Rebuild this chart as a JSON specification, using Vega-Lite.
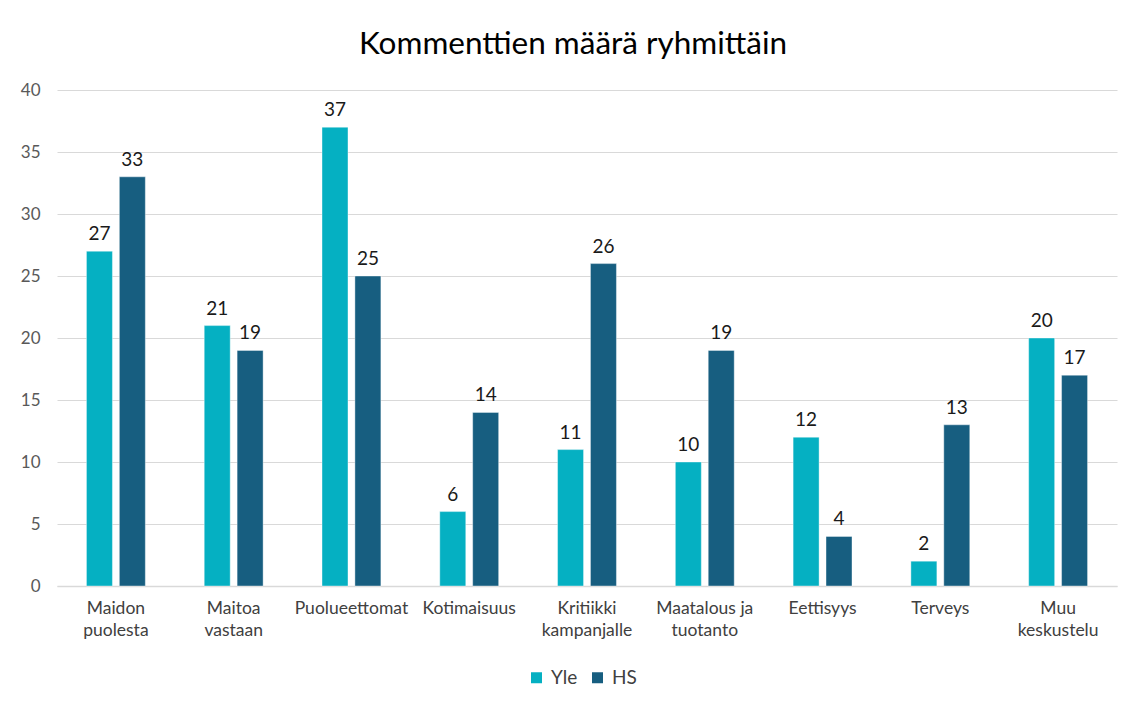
{
  "$schema": "https://vega.github.io/schema/vega-lite/v6.json",
  "autosize": {"type": "none"},
  "padding": {"left": 57, "top": 90, "right": 15, "bottom": 118},
  "width": 1060,
  "height": 496,
  "background": "white",
  "title": {
    "text": "Kommenttien määrä ryhmittäin",
    "font": "Lato",
    "fontSize": 31.5,
    "fontWeight": "normal",
    "color": "#000000",
    "anchor": "middle",
    "offset": 21,
    "dx": -14
  },
  "data": {
    "values": [
      {"ryhma": "Maidon puolesta", "lahde": "Yle", "maara": 27},
      {"ryhma": "Maidon puolesta", "lahde": "HS", "maara": 33},
      {"ryhma": "Maitoa vastaan", "lahde": "Yle", "maara": 21},
      {"ryhma": "Maitoa vastaan", "lahde": "HS", "maara": 19},
      {"ryhma": "Puolueettomat", "lahde": "Yle", "maara": 37},
      {"ryhma": "Puolueettomat", "lahde": "HS", "maara": 25},
      {"ryhma": "Kotimaisuus", "lahde": "Yle", "maara": 6},
      {"ryhma": "Kotimaisuus", "lahde": "HS", "maara": 14},
      {"ryhma": "Kritiikki kampanjalle", "lahde": "Yle", "maara": 11},
      {"ryhma": "Kritiikki kampanjalle", "lahde": "HS", "maara": 26},
      {"ryhma": "Maatalous ja tuotanto", "lahde": "Yle", "maara": 10},
      {"ryhma": "Maatalous ja tuotanto", "lahde": "HS", "maara": 19},
      {"ryhma": "Eettisyys", "lahde": "Yle", "maara": 12},
      {"ryhma": "Eettisyys", "lahde": "HS", "maara": 4},
      {"ryhma": "Terveys", "lahde": "Yle", "maara": 2},
      {"ryhma": "Terveys", "lahde": "HS", "maara": 13},
      {"ryhma": "Muu keskustelu", "lahde": "Yle", "maara": 20},
      {"ryhma": "Muu keskustelu", "lahde": "HS", "maara": 17}
    ]
  },
  "encoding": {
    "x": {
      "field": "ryhma",
      "type": "nominal",
      "sort": null,
      "title": null,
      "scale": {"paddingInner": 0.5, "paddingOuter": 0.25},
      "axis": {
        "labelAngle": 0,
        "labelFont": "Lato",
        "labelFontSize": 17.5,
        "labelColor": "#404040",
        "labelPadding": 13,
        "labelLineHeight": 22,
        "labelExpr": "datum.value == 'Maatalous ja tuotanto' ? ['Maatalous ja', 'tuotanto'] : split(datum.value, ' ')",
        "ticks": false,
        "domainColor": "#D9D9D9",
        "domainWidth": 1.5,
        "grid": false
      }
    },
    "xOffset": {
      "field": "lahde",
      "type": "nominal",
      "sort": ["Yle", "HS"],
      "scale": {"paddingInner": 0.21, "paddingOuter": 0}
    },
    "y": {
      "field": "maara",
      "type": "quantitative",
      "title": null,
      "scale": {"domain": [0, 40]},
      "axis": {
        "values": [0, 5, 10, 15, 20, 25, 30, 35, 40],
        "labelFont": "Lato",
        "labelFontSize": 17,
        "labelColor": "#595959",
        "labelPadding": 17,
        "ticks": false,
        "domain": false,
        "gridColor": "#D9D9D9",
        "gridWidth": 1.2
      }
    },
    "color": {
      "field": "lahde",
      "type": "nominal",
      "sort": ["Yle", "HS"],
      "title": null,
      "scale": {"domain": ["Yle", "HS"], "range": ["#05B0C2", "#175E80"]},
      "legend": {
        "orient": "none",
        "legendX": 470,
        "legendY": 578,
        "direction": "horizontal",
        "symbolType": "square",
        "symbolSize": 121,
        "symbolStrokeWidth": 0,
        "labelFont": "Lato",
        "labelFontSize": 19,
        "labelColor": "#404040",
        "columnPadding": 10,
        "labelOffset": 5
      }
    }
  },
  "layer": [
    {
      "mark": {"type": "bar", "stroke": "#FFFFFF", "strokeOpacity": 0.4, "strokeWidth": 1}
    },
    {
      "mark": {
        "type": "text",
        "baseline": "bottom",
        "dy": -7,
        "font": "Lato",
        "fontSize": 19,
        "color": "#1A1A1A"
      },
      "encoding": {
        "text": {"field": "maara", "type": "quantitative"},
        "color": {"value": "#1A1A1A"}
      }
    }
  ],
  "config": {"view": {"stroke": null}}
}
